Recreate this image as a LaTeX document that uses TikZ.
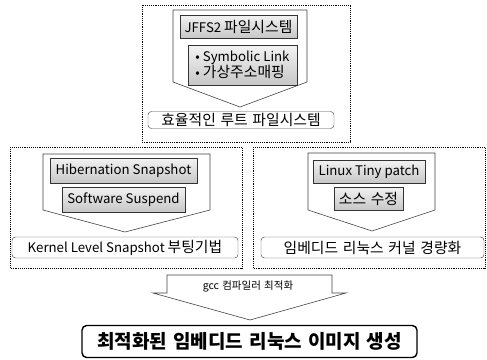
\documentclass[tikz,border=0pt]{standalone}
\usepackage{fontspec}
\setmainfont{Noto Sans CJK KR}
\newfontfamily\kr[Scale=1.12,WordSpace=2.3]{Noto Sans CJK KR}
\newfontfamily\krwide[Scale=1.12,WordSpace=1.4]{Noto Sans CJK KR}
\usetikzlibrary{shadows}

\begin{document}
\begin{tikzpicture}[x=0.03cm,y=-0.03cm,
     grp/.style={draw,densely dotted,line width=0.6pt},
     arr/.style={draw=black!75,line width=0.5pt},
     item/.style={draw=black!80,rectangle,inner sep=0pt,
       top color=white!95!black,bottom color=black!22,
       drop shadow={shadow xshift=0.6pt,shadow yshift=-0.6pt,opacity=0.35},
       font=\fontsize{11.3}{13}\selectfont},
     goal/.style={draw=black!70,rectangle,rounded corners=3pt,fill=white,
       inner sep=0pt,font=\fontsize{11.3}{13}\selectfont}
     ]
%Page size in pixels
\useasboundingbox (0,0) rectangle (487,359);

%Dotted group boxes
\foreach \xa/\ya/\xb/\yb in {142/5/350/142, 10/147/242/268, 253/147/485/268}
   \draw[grp] (\xa,\ya) rectangle (\xb,\yb);

%Arrow shapes inside the groups
\draw[arr] (173,10) -- (307,10) -- (307,82) -- (240,107) -- (173,82) -- cycle;
\draw[arr] (43,154) -- (210,154) -- (210,210) -- (125,232) -- (43,210) -- cycle;
\draw[arr] (308,153) -- (435,153) -- (435,210) -- (372,231) -- (308,210) -- cycle;

%Top group: file system
\node[item,minimum width=117*0.03cm,minimum height=23*0.03cm] (jffs) at (238.5,26.5) {JFFS2 {\kr 파일시스템}};
\node[item,minimum width=109*0.03cm,minimum height=40*0.03cm,align=left] (symlink) at (242.5,65)
   {• Symbolic Link\\• {\kr 가상주소매핑}};
\node[goal,minimum width=186*0.03cm,minimum height=17*0.03cm] (rootfs) at (241,120) {\kr 효율적인 루트 파일시스템};

%Left group: snapshot booting
\node[item,minimum width=147*0.03cm,minimum height=25*0.03cm] (hiber) at (123.5,170.5) {Hibernation Snapshot};
\node[item,minimum width=123*0.03cm,minimum height=25*0.03cm] (swsusp) at (123.5,199.5) {Software Suspend};
\node[goal,minimum width=226*0.03cm,minimum height=21*0.03cm] (kernsnap) at (125,247.5) {Kernel Level Snapshot {\kr 부팅기법}};

%Right group: kernel size
\node[item,minimum width=112*0.03cm,minimum height=23*0.03cm] (tiny) at (369,171.5) {Linux Tiny patch};
\node[item,minimum width=69*0.03cm,minimum height=23*0.03cm] (srcmod) at (368.5,198.5) {\kr 소스 수정};
\node[goal,minimum width=223*0.03cm,minimum height=21*0.03cm] (kernlight) at (372.5,247.5) {\kr 임베디드 리눅스 커널 경량화};

%Bottom arrow and result
\draw[arr] (167,275) -- (332,275) -- (332,293) -- (346,293) -- (250,320) -- (153,293) -- (167,293) -- cycle;
\node[font=\fontsize{8}{10}\selectfont\kr] (gcc) at (248,286) {gcc 컴파일러 최적화};
\node[goal,draw=black,line width=1.2pt,rounded corners=4pt,minimum width=335*0.03cm,minimum height=32*0.03cm,
   font=\fontsize{14.5}{17}\selectfont\krwide\bfseries] (final) at (249.5,341.5) {최적화된 임베디드 리눅스 이미지 생성};
 \end{tikzpicture}
\end{document}
